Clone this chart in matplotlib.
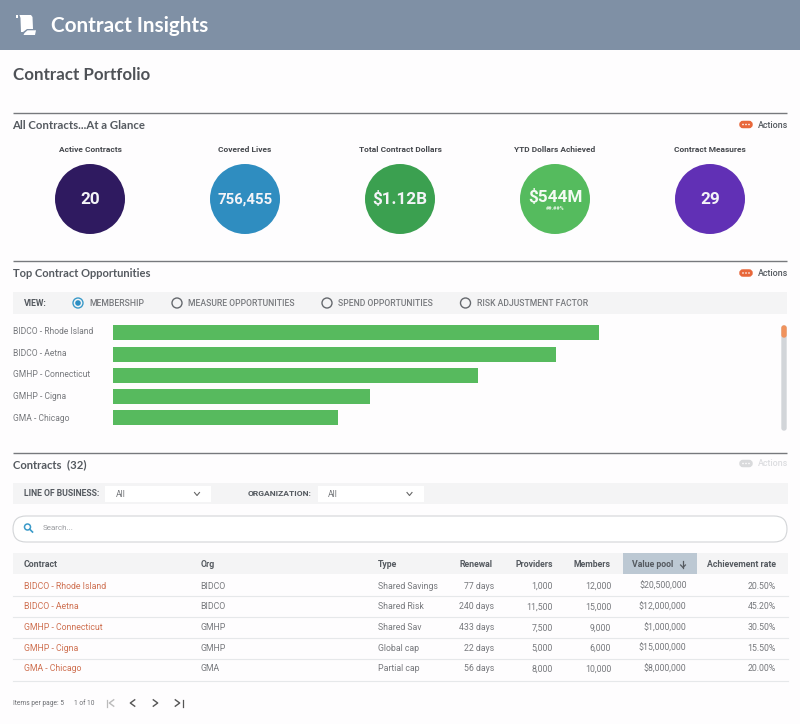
import matplotlib
matplotlib.use("Agg")
import matplotlib.pyplot as plt
from matplotlib.patches import Rectangle, Circle, FancyBboxPatch, Polygon

# ---- data ----
kpi_labels = ["Active Contracts", "Covered Lives", "Total Contract Dollars", "YTD Dollars Achieved", "Contract Measures"]
kpi_values = ["20", "756,455", "$1.12B", "$544M", "29"]
kpi_colors = ["#2f1a60", "#2f8dc0", "#3ba050", "#55bb5e", "#6130b5"]
bar_categories = ["BIDCO - Rhode Island", "BIDCO - Aetna", "GMHP - Connecticut", "GMHP - Cigna", "GMA - Chicago"]
bar_values = [12000, 10930, 9000, 6340, 5550]
view_options = ["MEMBERSHIP", "MEASURE OPPORTUNITIES", "SPEND OPPORTUNITIES", "RISK ADJUSTMENT FACTOR"]
table_headers = ["Contract", "Org", "Type", "Renewal", "Providers", "Members", "Value pool", "Achievement rate"]
contracts = ["BIDCO - Rhode Island", "BIDCO - Aetna", "GMHP - Connecticut", "GMHP - Cigna", "GMA - Chicago"]
orgs = ["BIDCO", "BIDCO", "GMHP", "GMHP", "GMA"]
types = ["Shared Savings", "Shared Risk", "Shared Sav", "Global cap", "Partial cap"]
renewals = ["77 days", "240 days", "433 days", "22 days", "56 days"]
providers = ["1,000", "11,500", "7,500", "5,000", "8,000"]
members = ["12,000", "15,000", "9,000", "6,000", "10,000"]
value_pools = ["$20,500,000", "$12,000,000", "$1,000,000", "$15,000,000", "$8,000,000"]
rates = ["20.50%", "45.20%", "30.50%", "15.50%", "20.00%"]

W, H = 800, 724
fig = plt.figure(figsize=(W / 100, H / 100), dpi=100, facecolor="#fefdfe")
ui = fig.add_axes([0, 0, 1, 1])
ui.set_xlim(0, W)
ui.set_ylim(H, 0)
ui.axis("off")

HEAD = "Lato"
BODY = "Roboto"
DARK = "#555a60"
MID = "#77797d"
BAND = "#f4f4f5"
ORANGE = "#e8673a"
HEADER_BG = "#7f90a5"


def txt(x, y, s, size=6.5, color=MID, weight="normal", ha="left", family=BODY, **kw):
    return ui.text(x, y + 0.8, s, fontsize=size, color=color, fontweight=weight, ha=ha, va="center", family=family, **kw)


def rect(x0, y0, x1, y1, color, z=1):
    ui.add_patch(Rectangle((x0, y0), x1 - x0, y1 - y0, fc=color, ec="none", zorder=z))


def rule(y):
    ui.plot([13, 787], [y, y], color="#77797d", lw=1.0, zorder=2, solid_capstyle="butt")


def actions(y, main=ORANGE, text=DARK):
    ui.add_patch(FancyBboxPatch((740.5, y - 2.5), 11, 5, boxstyle="round,pad=0,rounding_size=2.5", fc=main, ec=main, lw=1.8, zorder=3))
    for dx in (743, 746, 749):
        ui.add_patch(Circle((dx, y), 0.8, fc="white", ec="none", zorder=4))
    txt(758, y - 0.3, "Actions", size=6.4, color=text, weight="medium")


def chevron(x, y, dx=2.5, dy=1.5, color="#666", lw=0.8):
    ui.plot([x - dx, x, x + dx], [y - dy, y + dy, y - dy], color=color, lw=lw, zorder=4)


def hchev(x, y, left, color="#555", lw=1.0, dx=2.2, dy=3.2):
    sx = -dx if left else dx
    ui.plot([x - sx, x + sx, x - sx], [y - dy, y, y + dy], color=color, lw=lw, zorder=4)


# header
rect(0, 0, W, 49.5, HEADER_BG)
txt(51, 25.2, "Contract Insights", size=14.85, color="white", weight="bold", family=HEAD)
ui.add_patch(Polygon([(19.5, 15), (31, 15), (32.5, 17), (33, 29), (27, 29), (23, 32), (21, 32), (20.5, 18)], fc="white", ec="none", zorder=3))
ui.add_patch(Rectangle((15.8, 15), 2.5, 3.2, fc="white", ec="none", zorder=3))
ui.add_patch(Polygon([(27.5, 30.3), (36, 30.3), (35, 35), (23.5, 35), (24.5, 33)], fc="white", ec="none", zorder=3))

txt(13, 74.5, "Contract Portfolio", size=12.2, color="#4f5257", weight="bold", family=HEAD)

# at a glance
rule(112.5)
txt(12.5, 124.6, "All Contracts...At a Glance", size=8.2, color=DARK, weight="bold", family=HEAD)
actions(124.5)
for i, (lab, val, col) in enumerate(zip(kpi_labels, kpi_values, kpi_colors)):
    cx = 90 + 155 * i
    txt(cx, 148.6, lab, size=6, color="#45484d", weight="bold", ha="center")
    ui.add_patch(Circle((cx, 199), 35, fc=col, ec="none", zorder=2))
    if val == "$544M":
        txt(cx, 196.5, val, size=12.3, color="#f4fbf4", weight="bold", ha="center", zorder=3)
        txt(cx, 207.5, "##.##%", size=4, color="#dff3df", weight="bold", ha="center", zorder=3)
    else:
        size = 10.7 if len(val) > 6 else 12.3
        txt(cx, 198.5, val, size=size, color="#f4f4f8", weight="bold", ha="center", zorder=3)

# opportunities
rule(261)
txt(13, 273, "Top Contract Opportunities", size=8.05, color=DARK, weight="bold", family=HEAD)
actions(273)
rect(13, 292, 787, 314, BAND)
txt(24, 302.6, "VIEW:", size=6.2, color=DARK, weight="bold")
radio_x = [78, 177, 327, 465.5]
for i, (rx, opt) in enumerate(zip(radio_x, view_options)):
    sel = i == 0
    ui.add_patch(Circle((rx, 303), 5, fc="none", ec="#3b9ac9" if sel else "#66696e", lw=1, zorder=3))
    if sel:
        ui.add_patch(Circle((rx, 303), 2.8, fc="#2d8fc4", ec="none", zorder=3))
    txt(rx + 11.5, 302.6, opt, size=6.2, color=MID, weight="medium")

# bar chart, on its own axes
top, bottom = 325, 431
bar_left, bar_right = 112.5, 775
ax = fig.add_axes([bar_left / W, 1 - bottom / H, (bar_right - bar_left) / W, (bottom - top) / H])
ax.patch.set_alpha(0)
ax.set_xlim(0, (bar_right - bar_left) / 0.04056)
step = 21.25
ax.set_ylim((bottom - 333) / step, (top - 333) / step)
bar_pos = list(range(len(bar_values)))
ax.barh(bar_pos, bar_values, height=15 / step, color="#57ba5e")
label_pos = [(330.5 + 21.75 * i - 333) / step for i in bar_pos]
ax.set_yticks(label_pos, labels=bar_categories, fontsize=6.15, color=MID, family=BODY, ha="left")
ax.tick_params(axis="y", length=0, pad=(bar_left - 13) * 0.72)
ax.set_xticks([])
for sp in ax.spines.values():
    sp.set_visible(False)

ui.add_patch(FancyBboxPatch((782, 326), 4, 104, boxstyle="round,pad=0,rounding_size=2", fc="#d2d5d9", ec="#d2d5d9", lw=1, zorder=2))
ui.add_patch(FancyBboxPatch((782, 326), 4, 11, boxstyle="round,pad=0,rounding_size=2", fc="#f0925c", ec="#f0925c", lw=1, zorder=3))

# contracts
rule(453)
txt(13, 463.5, "Contracts  (32)", size=8.1, color=DARK, weight="bold", family=HEAD)
actions(463.5, main="#d9dadc", text="#dcdde0")
rect(13, 483, 788, 504, BAND)
txt(24, 493, "LINE OF BUSINESS:", size=6.2, color=DARK, weight="bold")
rect(105, 486, 211, 502, "white", 2)
txt(115.5, 493.5, "All", size=6.2, zorder=3)
chevron(197, 494)
txt(248, 493, "ORGANIZATION:", size=6.1, color=DARK, weight="bold")
rect(318, 486, 424, 502, "white", 2)
txt(328, 493.5, "All", size=6.2, zorder=3)
chevron(409.5, 494)

ui.add_patch(FancyBboxPatch((13, 516), 774, 26, boxstyle="round,pad=0,rounding_size=13", fc="white", ec="#d3d5d8", lw=0.8, zorder=2))
ui.add_patch(Circle((27.5, 527), 3, fc="none", ec="#3b9ac9", lw=1.1, zorder=3))
ui.plot([29.8, 32.5], [529.3, 532], color="#3b9ac9", lw=1.2, zorder=3)
txt(43, 527.5, "Search...", size=5.8, color="#9a9ca0", zorder=3)

# table
rect(13, 553, 788, 574, BAND)
rect(622.5, 553, 697, 574, "#bcc8d3", 2)
left_cols = [24, 200.5, 378]
right_cols = [494, 553, 611, 686.5, 776]
for x, h in zip(left_cols, table_headers[:3]):
    txt(x, 563.5, h, size=6.3, color=DARK, weight="bold", zorder=3)
for x, h in zip(right_cols, table_headers[3:]):
    if h == "Value pool":
        txt(632.5, 563.5, h, size=6.3, color=DARK, weight="bold", zorder=3)
        ui.plot([683, 683], [561, 567.5], color=DARK, lw=0.9, zorder=3)
        ui.plot([680.6, 683, 685.4], [565, 567.5, 565], color=DARK, lw=0.9, zorder=3)
    else:
        txt(x - 1 if h == "Renewal" else x, 563.5, h, size=6.3, color=DARK, weight="bold", ha="right", zorder=3)

row_y = [585.5, 606, 627, 647.5, 668]
line_y = [595.5, 616.5, 637.5, 658.5, 680.5]
for r, y in enumerate(row_y):
    txt(24, y, contracts[r], size=6.3, color="#cf7152")
    txt(left_cols[1], y, orgs[r], size=6.3)
    txt(left_cols[2], y, types[r], size=6.3)
    for x, col in zip(right_cols, [renewals, providers, members, value_pools, rates]):
        txt(x, y, col[r], size=6.3, ha="right")
    ui.plot([13, 788], [line_y[r], line_y[r]], color="#e6e8ea", lw=0.8, zorder=1)

# pagination
txt(13, 702.7, "Items per page: 5", size=4.75, color="#6c6e72")
txt(74, 702.7, "1 of 10", size=4.75, color="#6c6e72")
ui.plot([106.5, 106.5], [700, 706.5], color="#bbb", lw=0.9)
hchev(111.5, 703, True, color="#bbb")
hchev(132.5, 703, True)
hchev(155.5, 703, False)
hchev(177.5, 703, False)
ui.plot([182.5, 182.5], [700, 706.5], color="#555", lw=0.9)

fig.savefig("out.png", dpi=100, facecolor=fig.get_facecolor())
